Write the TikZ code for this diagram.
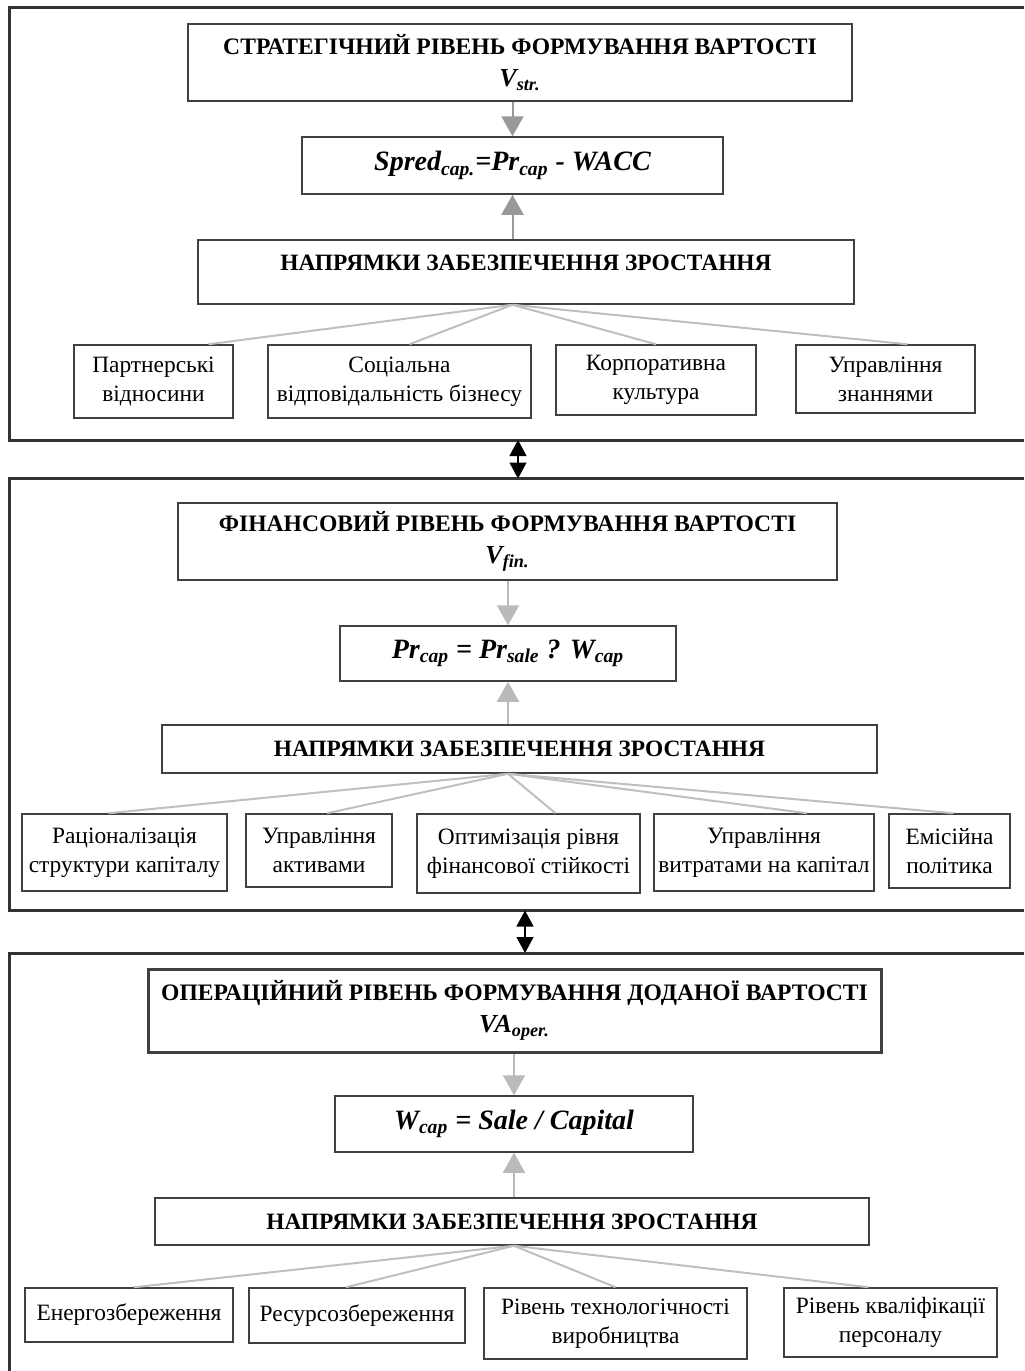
\documentclass[tikz,border=0pt]{standalone}
\usepackage{fontspec}
\setmainfont{Liberation Serif}
\usetikzlibrary{arrows.meta}

\begin{document}
\begin{tikzpicture}[x=0.5pt,y=-0.5pt,
    frame/.style={draw=black!80,line width=1.5pt},
    box/.style={draw=black!75,line width=0.75pt,align=center,inner sep=0pt,
      font=\fontsize{11.7}{14.5}\selectfont},
    titlebox/.style={box,font=\fontsize{11.8}{16}\selectfont\bfseries},
    formbox/.style={box,font=\fontsize{14}{17}\selectfont\bfseries\itshape},
    dirbox/.style={box,font=\fontsize{11.7}{14}\selectfont\bfseries},
    downarrow/.style={draw=#1,line width=1pt,-{Triangle[width=11pt,length=10pt]}},
    uparrow/.style={draw=#1,line width=1pt,-{Triangle[width=11pt,length=10pt]}},
    fan/.style={draw=black!25,line width=1pt},
    dblarrow/.style={draw=black,line width=0.6pt,
      {Triangle[width=8.5pt,length=8pt]}-{Triangle[width=8.5pt,length=8pt]}}]
  \useasboundingbox (0,0) rectangle (1024,1371);

  \draw[frame] (1024,7.5) -- (9.5,7.5) -- (9.5,440) -- (1024,440);
  \draw[frame] (1024,478.5) -- (9.5,478.5) -- (9.5,910.5) -- (1024,910.5);
  \draw[frame] (1024,953) -- (9.5,953) -- (9.5,1371);

  \coordinate (g1a) at (518,440);
  \coordinate (g1b) at (518,478.5);
  \coordinate (g2a) at (525,910.5);
  \coordinate (g2b) at (525,953);
  \draw[dblarrow] (g1a) -- (g1b);
  \draw[dblarrow] (g2a) -- (g2b);

  \node[titlebox,minimum width=332pt,minimum height=38.5pt] (t1) at (520,62.5)
    {СТРАТЕГІЧНИЙ РІВЕНЬ ФОРМУВАННЯ ВАРТОСТІ\\
     {\fontsize{13}{16}\selectfont\itshape V\textsubscript{str.}}};
  \node[formbox,minimum width=210.5pt,minimum height=28.5pt] (f1) at (512.5,165.5)
    {Spred\textsubscript{cap.}=Pr\textsubscript{cap} - WACC};
  \node[dirbox,minimum width=328pt,minimum height=32pt,text height=8pt,text depth=10pt] (d1) at (526,272)
    {НАПРЯМКИ ЗАБЕЗПЕЧЕННЯ ЗРОСТАННЯ};
  \node[box,minimum width=79.5pt,minimum height=36.5pt] (s11) at (153.5,381.5) {Партнерські\\відносини};
  \node[box,minimum width=131.5pt,minimum height=36.5pt] (s12) at (399.5,381.5) {Соціальна\\відповідальність бізнесу};
  \node[box,minimum width=100pt,minimum height=35pt] (s13) at (656,380) {Корпоративна\\культура};
  \node[box,minimum width=89.5pt,minimum height=34pt] (s14) at (885.5,379) {Управління\\знаннями};

  \draw[downarrow=black!40] (t1.south -| f1.north) -- (f1.north);
  \draw[uparrow=black!40] (d1.north -| f1.south) -- (f1.south);
  \coordinate (o1) at (d1.south -| f1.south);
  \foreach \n/\s in {s11/27.5pt,s12/5pt,s13/0pt,s14/11pt}
    \draw[fan] (o1) -- ([xshift=\s]\n.north);

  \node[titlebox,minimum width=329.5pt,minimum height=38.5pt] (t2) at (507.5,541.5)
    {ФІНАНСОВИЙ РІВЕНЬ ФОРМУВАННЯ ВАРТОСТІ\\
     {\fontsize{13}{16}\selectfont\itshape V\textsubscript{fin.}}};
  \node[formbox,minimum width=168pt,minimum height=27.5pt] (f2) at (508,653.5)
    {Pr\textsubscript{cap} = Pr\textsubscript{sale} ? W\textsubscript{cap}};
  \node[dirbox,minimum width=357.5pt,minimum height=24pt] (d2) at (519.5,749)
    {НАПРЯМКИ ЗАБЕЗПЕЧЕННЯ ЗРОСТАННЯ};
  \node[box,minimum width=102.5pt,minimum height=38.5pt] (s21) at (124.5,852.5) {Раціоналізація\\структури капіталу};
  \node[box,minimum width=73pt,minimum height=36.5pt] (s22) at (319,850.5) {Управління\\активами};
  \node[box,minimum width=111.5pt,minimum height=39.5pt] (s23) at (528.5,853.5) {Оптимізація рівня\\фінансової стійкості};
  \node[box,minimum width=110pt,minimum height=38.5pt] (s24) at (764,852.5) {Управління\\витратами на капітал};
  \node[box,minimum width=60.5pt,minimum height=37pt] (s25) at (949.5,851) {Емісійна\\політика};

  \draw[downarrow=black!27] (t2.south -| f2.north) -- (f2.north);
  \draw[uparrow=black!27] (d2.north -| f2.south) -- (f2.south);
  \coordinate (o2) at (d2.south -| f2.south);
  \foreach \n/\s in {s21/-8pt,s22/4pt,s23/13.5pt,s24/21.5pt,s25/2pt}
    \draw[fan] (o2) -- ([xshift=\s]\n.north);

  \node[titlebox,line width=1.5pt,minimum width=366.5pt,minimum height=41.5pt] (t3) at (514.5,1010.5)
    {ОПЕРАЦІЙНИЙ РІВЕНЬ ФОРМУВАННЯ ДОДАНОЇ ВАРТОСТІ\\
     {\fontsize{13}{16}\selectfont\itshape VA\textsubscript{oper.}}};
  \node[formbox,minimum width=179pt,minimum height=28pt] (f3) at (514,1124)
    {W\textsubscript{cap} = Sale / Capital};
  \node[dirbox,minimum width=357pt,minimum height=23.5pt] (d3) at (512,1221.5)
    {НАПРЯМКИ ЗАБЕЗПЕЧЕННЯ ЗРОСТАННЯ};
  \node[box,minimum width=104pt,minimum height=27pt] (s31) at (129,1315) {Енергозбереження};
  \node[box,minimum width=108pt,minimum height=27.5pt] (s32) at (357,1315.5) {Ресурсозбереження};
  \node[box,minimum width=131.5pt,minimum height=35.5pt] (s33) at (615.5,1323.5) {Рівень технологічності\\виробництва};
  \node[box,minimum width=106.5pt,minimum height=34.5pt] (s34) at (890.5,1322.5) {Рівень кваліфікації\\персоналу};

  \draw[downarrow=black!27] (t3.south -| f3.north) -- (f3.north);
  \draw[uparrow=black!27] (d3.north -| f3.south) -- (f3.south);
  \coordinate (o3) at (d3.south -| f3.south);
  \foreach \n/\s in {s31/2.5pt,s32/-5.5pt,s33/0pt,s34/-11pt}
    \draw[fan] (o3) -- ([xshift=\s]\n.north);
\end{tikzpicture}
\end{document}
